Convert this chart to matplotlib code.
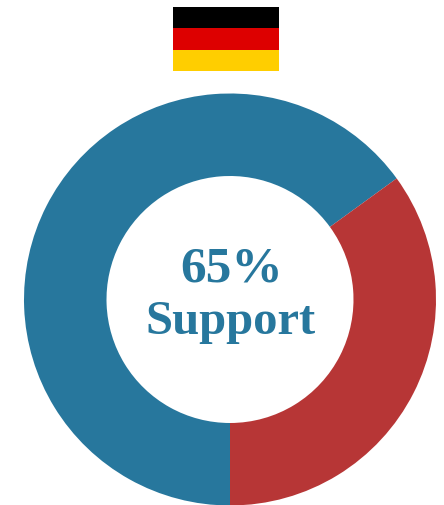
#!/usr/bin/env python3

import matplotlib
matplotlib.use("Agg")
import matplotlib.pyplot as plt
from matplotlib.patches import Rectangle

#-------------------------------------------------------------
labels = ["Support", "Oppose"]
values = [65, 35]
colors = ["#27779d", "#b73636"]
flagColors = ["#000000", "#dd0000", "#ffce00"]
centerLines = ["65%", "Support"]

W, H = 444, 505

#-------------------------------------------------------------
def main():

    fig = plt.figure(figsize=(W / 100, H / 100), dpi=100)

    #donut, axes given in pixels so that 1 unit is 1 px
    ax = fig.add_axes([0, 0, 1, 1])
    ax.set_xlim(0, W)
    ax.set_ylim(H, 0)
    ax.axis("off")

    # y axis is flipped here, so 90 deg is 6 o'clock and ccw looks clockwise
    ax.pie(values, colors=colors, center=(230, 299.5), radius=206,
           startangle=90, counterclock=True, frame=False,
           wedgeprops=dict(width=82.5, linewidth=0))
    ax.set_xlim(0, W)
    ax.set_ylim(H, 0)
    ax.set_aspect("auto")

    #flag
    for i, c in enumerate(flagColors):
        ax.add_patch(Rectangle((173, 7 + i * 21.33), 106, 21.33, color=c, linewidth=0))

    #center text
    ax.text(232, 270, centerLines[0], ha="center", va="center", color=colors[0],
            fontsize=37, fontweight="bold", family="Liberation Serif")
    ax.text(230.5, 321.5, centerLines[1], ha="center", va="center", color=colors[0],
            fontsize=35, fontweight="bold", family="Liberation Serif")

    fig.savefig("out.png", dpi=100)
    plt.close()

#-------------------------------------------------------------
if __name__ == "__main__":
    main()
